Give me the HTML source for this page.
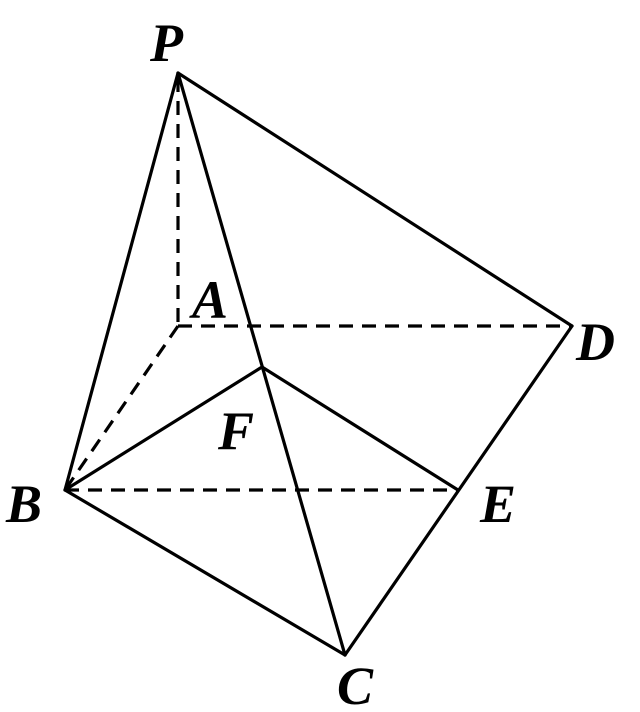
<!DOCTYPE html>
<html><head><meta charset="utf-8"><style>
html,body{margin:0;padding:0;background:#fff;}
svg{display:block;}
text{font-family:"Liberation Serif",serif;font-weight:bold;font-style:italic;font-size:54px;fill:#000;}
</style></head><body>
<svg width="640" height="712" viewBox="0 0 640 712" xmlns="http://www.w3.org/2000/svg">
<g stroke="#000" stroke-width="3.2" fill="none" stroke-linecap="round" stroke-linejoin="round">
<line x1="178" y1="73" x2="65" y2="490"/>
<line x1="178" y1="73" x2="345" y2="655"/>
<line x1="178" y1="73" x2="572" y2="326"/>
<line x1="572" y1="326" x2="345" y2="655"/>
<line x1="65" y1="490" x2="345" y2="655"/>
<line x1="65" y1="490" x2="262" y2="367"/>
<line x1="262" y1="367" x2="458" y2="490"/>
</g>
<g stroke="#000" stroke-width="3.2" fill="none" stroke-dasharray="14,9">
<line x1="178" y1="78" x2="178" y2="326"/>
<line x1="178" y1="326" x2="572" y2="326"/>
<line x1="178" y1="326" x2="65" y2="490"/>
<line x1="65" y1="490" x2="458" y2="490"/>
</g>
<text x="150" y="61">P</text>
<text x="192" y="318">A</text>
<text x="576" y="360">D</text>
<text x="6" y="522">B</text>
<text x="480" y="522">E</text>
<text x="337" y="704">C</text>
<text x="218" y="449">F</text>
</svg>
</body></html>
